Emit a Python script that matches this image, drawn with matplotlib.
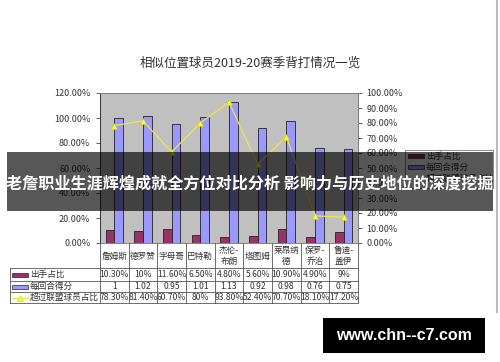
import numpy as np
import matplotlib
matplotlib.use("Agg")
import matplotlib.pyplot as plt
import matplotlib.transforms as mtransforms
from matplotlib.patches import Rectangle
from matplotlib.lines import Line2D

plt.rcParams['font.family'] = ['Noto Sans CJK SC', 'DejaVu Sans']

# data
players = ["詹姆斯", "德罗赞", "字母哥", "巴特勒", "杰伦-\n布朗", "塔图姆",
           "莱昂纳\n德", "保罗-\n乔治", "鲁迪-\n盖伊"]
shot_share = [10.3, 10, 11.6, 6.5, 4.8, 5.6, 10.9, 4.9, 9]          # %
ppp = [1, 1.02, 0.95, 1.01, 1.13, 0.92, 0.98, 0.76, 0.75]
pct_better = [78.3, 81.4, 60.7, 80, 93.8, 52.4, 70.7, 18.1, 17.2]    # %

shot_txt = ["10.30%", "10%", "11.60%", "6.50%", "4.80%", "5.60%", "10.90%", "4.90%", "9%"]
ppp_txt = ["1", "1.02", "0.95", "1.01", "1.13", "0.92", "0.98", "0.76", "0.75"]
better_txt = ["78.30%", "81.40%", "60.70%", "80%", "93.80%", "52.40%", "70.70%", "18.10%", "17.20%"]
series_names = ["出手占比", "每回合得分", "超过联盟球员占比"]

title = "相似位置球员2019-20赛季背打情况一览"
banner = "老詹职业生涯辉煌成就全方位对比分析 影响力与历史地位的深度挖掘"

W, H = 500, 362
fx = lambda px: px / W
fy = lambda py: 1 - py / H

c_red = '#993366'
c_blue = '#9999ff'
c_yel = '#e8e850'
txt_c = '#333333'

fig = plt.figure(figsize=(5, 3.62), dpi=100)
fig.patch.set_facecolor('white')

ax = fig.add_axes([fx(100), fy(243), fx(358) - fx(100), (243 - 93) / H])
ax.set_facecolor('#c0c0c0')
x = np.arange(len(players))
bw = 0.3
ax.bar(x - bw / 2, shot_share, bw, color=c_red, edgecolor='#222222', lw=0.6, zorder=2)
ax.bar(x + bw / 2, np.array(ppp) * 100, bw, color=c_blue, edgecolor='#222222', lw=0.6, zorder=2)
ax.set_xlim(-0.5, len(players) - 0.5)
ax.set_ylim(0, 120)
ax.set_xticks([])
ax.set_yticks(np.arange(0, 121, 20))
ax.set_yticklabels([f"{v:.2f}%" for v in np.arange(0, 121, 20)])
ax.tick_params(axis='y', length=3, width=0.6, pad=4, labelsize=6.5, labelcolor=txt_c, colors='#444444')
for s in ['top', 'right', 'bottom']:
    ax.spines[s].set_color('#808080')
    ax.spines[s].set_linewidth(0.7)
ax.spines['left'].set_color('#333333')
ax.spines['left'].set_linewidth(0.7)

ax2 = ax.twinx()
ax2.plot(x, pct_better, color=c_yel, lw=0.9, marker='^', ms=4,
         mfc='#ffff33', mec='#cccc00', mew=0.4, zorder=3)
ax2.set_ylim(0, 100)
ax2.set_yticks(np.arange(0, 101, 10))
ax2.set_yticklabels([f"{v:.2f}%" for v in np.arange(0, 101, 10)])
ax2.tick_params(axis='y', length=3, width=0.6, pad=3, labelsize=6.5, labelcolor=txt_c, colors='#444444')
for s in ['top', 'left', 'bottom']:
    ax2.spines[s].set_visible(False)
ax2.spines['right'].set_color('#808080')
ax2.spines['right'].set_linewidth(0.7)

fig.text(fx(250), fy(63), title, ha='center', va='center', fontsize=9, color=txt_c)

# data table under the plot
trans = mtransforms.blended_transform_factory(ax.transData, fig.transFigure)
lc = '#555555'
rows_y = [243, 268, 281, 292, 303]
for yy in rows_y[1:]:
    fig.add_artist(Line2D([-0.5, len(players) - 0.5], [fy(yy), fy(yy)], transform=trans, color=lc, lw=0.6))
    fig.add_artist(Line2D([fx(10), fx(100)], [fy(yy), fy(yy)], transform=fig.transFigure, color=lc, lw=0.6))
for xx in np.arange(-0.5, len(players), 1.0):
    fig.add_artist(Line2D([xx, xx], [fy(243), fy(303)], transform=trans, color=lc, lw=0.6))
fig.add_artist(Line2D([fx(10), fx(10)], [fy(268), fy(303)], transform=fig.transFigure, color=lc, lw=0.6))

for i, p in enumerate(players):
    fig.text(i, fy(256), p, transform=trans, ha='center', va='center', fontsize=6.2,
             color=txt_c, linespacing=1.25)
row_vals = [shot_txt, ppp_txt, better_txt]
row_cy = [274.5, 286.5, 297.5]
for vals, cy in zip(row_vals, row_cy):
    for i, v in enumerate(vals):
        fig.text(i, fy(cy), v, transform=trans, ha='center', va='center', fontsize=6.2, color=txt_c)

# legend keys inside the table label column
fig.add_artist(Rectangle((fx(12), fy(row_cy[0] + 2)), fx(16), 4 / H, transform=fig.transFigure,
                         facecolor=c_red, edgecolor='#222222', lw=0.5))
fig.add_artist(Rectangle((fx(12), fy(row_cy[1] + 2)), fx(16), 4 / H, transform=fig.transFigure,
                         facecolor=c_blue, edgecolor='#222222', lw=0.5))
fig.add_artist(Line2D([fx(12), fx(28)], [fy(row_cy[2]), fy(row_cy[2])], transform=fig.transFigure,
                      color=c_yel, lw=0.9))
fig.add_artist(Line2D([fx(20)], [fy(row_cy[2])], transform=fig.transFigure, color=c_yel,
                      marker='^', ms=4, mfc='#ffff33', mec='#cccc00', mew=0.4, lw=0))
for name, cy in zip(series_names, row_cy):
    fig.text(fx(30), fy(cy), name, ha='left', va='center', fontsize=6.2, color=txt_c)

# legend box at the right
fig.add_artist(Rectangle((fx(405), fy(188)), fx(88), (188 - 150) / H, transform=fig.transFigure,
                         facecolor='white', edgecolor='#777777', lw=0.6))
leg_y = [156, 167, 178]
fig.add_artist(Rectangle((fx(408), fy(leg_y[0] + 2)), fx(16), 4 / H, transform=fig.transFigure,
                         facecolor=c_red, edgecolor='#222222', lw=0.5))
fig.add_artist(Rectangle((fx(408), fy(leg_y[1] + 2)), fx(16), 4 / H, transform=fig.transFigure,
                         facecolor=c_blue, edgecolor='#222222', lw=0.5))
fig.add_artist(Line2D([fx(408), fx(424)], [fy(leg_y[2]), fy(leg_y[2])], transform=fig.transFigure,
                      color=c_yel, lw=0.9))
for name, cy in zip(series_names, leg_y):
    fig.text(fx(426), fy(cy), name, ha='left', va='center', fontsize=6.2, color=txt_c)

# right border of the screenshot
fig.add_artist(Line2D([fx(497), fx(497)], [fy(0), fy(312)], transform=fig.transFigure, color='#bbbbbb', lw=1.5))

# overlay banner
fig.add_artist(Rectangle((fx(7), fy(211)), fx(486), (211 - 152) / H, transform=fig.transFigure,
                         facecolor='black', alpha=0.66, edgecolor='none', zorder=10))
fig.text(fx(250), fy(183), banner, ha='center', va='center', fontsize=11.6, color='white',
         fontweight='bold', zorder=11)

# watermark
fig.add_artist(Rectangle((fx(323), fy(353)), fx(162), (353 - 318) / H, transform=fig.transFigure,
                         facecolor='black', edgecolor='none', zorder=10))
fig.text(fx(404), fy(335), "www.chn--c7.com", ha='center', va='center', fontsize=11.5, color='white',
         fontweight='bold', family=['Liberation Sans', 'DejaVu Sans'], zorder=11)

fig.savefig("out.png", dpi=100)
